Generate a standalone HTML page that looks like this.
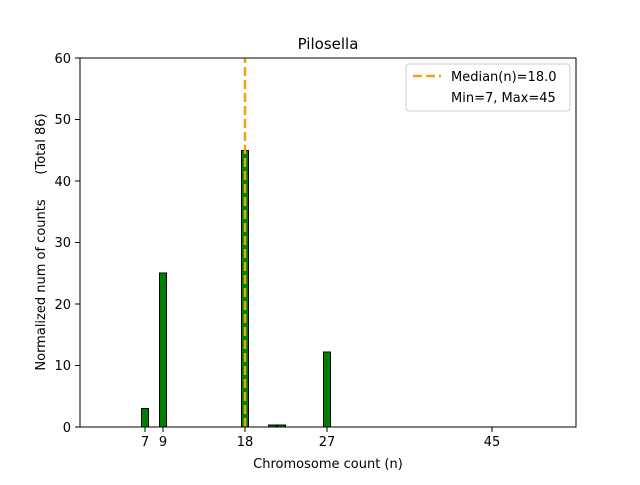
<!DOCTYPE html><html><head><style>body{margin:0;background:#fff}</style></head><body>
<svg width="640" height="480" xmlns="http://www.w3.org/2000/svg" font-family="DejaVu Sans, Liberation Sans, sans-serif" font-size="13">
<rect width="640" height="480" fill="#fff"/>
<g fill="#008000" stroke="#000" stroke-width="1">
<rect x="141.5" y="408.5" width="7" height="18.5"/>
<rect x="159.5" y="273" width="7" height="154"/>
<rect x="241.5" y="150.5" width="7" height="276.5"/>
<rect x="268.5" y="425" width="8" height="2"/>
<rect x="277.5" y="425" width="8" height="2"/>
<rect x="323.5" y="352" width="7" height="75"/>
</g>
<line x1="245" y1="427" x2="245" y2="58" stroke="#f0a30a" stroke-width="2.5" stroke-dasharray="9,4"/>
<rect x="80" y="58" width="496" height="369" fill="none" stroke="#000" stroke-width="1"/>
<g stroke="#000"><line x1="75" y1="427" x2="80" y2="427"/><line x1="75" y1="365.5" x2="80" y2="365.5"/><line x1="75" y1="304" x2="80" y2="304"/><line x1="75" y1="242.5" x2="80" y2="242.5"/><line x1="75" y1="181" x2="80" y2="181"/><line x1="75" y1="119.5" x2="80" y2="119.5"/><line x1="75" y1="58" x2="80" y2="58"/>
<line x1="145" y1="427" x2="145" y2="432"/><line x1="163" y1="427" x2="163" y2="432"/><line x1="245" y1="427" x2="245" y2="432"/><line x1="327" y1="427" x2="327" y2="432"/><line x1="492" y1="427" x2="492" y2="432"/></g>
<g text-anchor="end"><text x="71" y="432">0</text><text x="71" y="370">10</text><text x="71" y="309">20</text><text x="71" y="247">30</text><text x="71" y="186">40</text><text x="71" y="124">50</text><text x="71" y="63">60</text></g>
<g text-anchor="middle"><text x="145" y="446">7</text><text x="163" y="446">9</text><text x="245" y="446">18</text><text x="327" y="446">27</text><text x="492" y="446">45</text>
<text x="328" y="468">Chromosome count (n)</text>
<text x="328" y="49" font-size="15">Pilosella</text></g>
<text transform="translate(45,242) rotate(-90)" text-anchor="middle" xml:space="preserve">Normalized num of counts      (Total 86)</text>
<rect x="406" y="64" width="164" height="47" rx="3" fill="#fff" stroke="#ccc"/>
<line x1="413" y1="76" x2="441" y2="76" stroke="#f0a30a" stroke-width="2.5" stroke-dasharray="9,4"/>
<text x="451" y="81">Median(n)=18.0</text>
<text x="451" y="102">Min=7, Max=45</text>
</svg></body></html>
